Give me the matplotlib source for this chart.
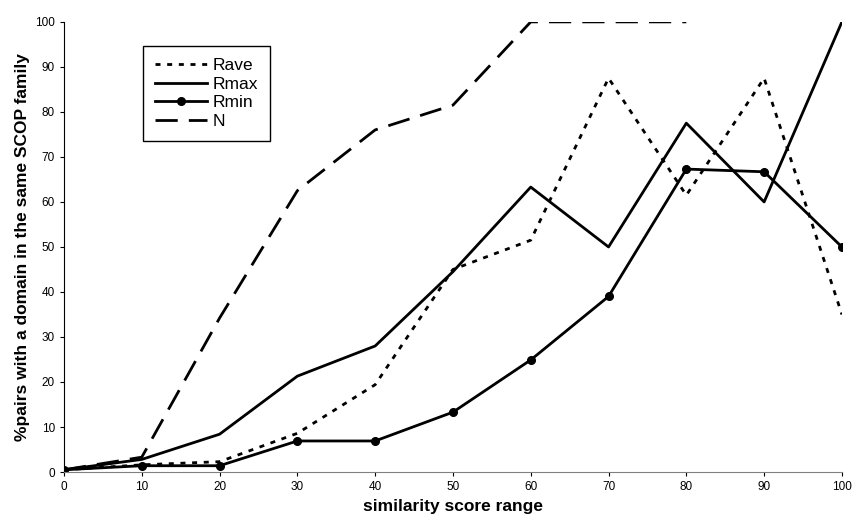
import numpy as np
import matplotlib.pyplot as plt

plt.rcParams['font.family'] = ['Liberation Sans', 'DejaVu Sans']

# similarity score range (x) and % of pairs in the same SCOP family
score = [0, 10, 20, 30, 40, 50, 60, 70, 80, 90, 100]
rave = [0.5, 1.6, 2.3, 8.6, 19.4, 45, 51.5, 87.5, 61.5, 87.5, 35]
rmax = [0.5, 2.8, 8.4, 21.3, 28, 44.5, 63.3, 50, 77.5, 60, 100]
rmin = [0.5, 1.4, 1.4, 6.9, 6.9, 13.3, 24.9, 39, 67.3, 66.7, 50]
nScore = [0, 10, 20, 30, 40, 50, 60, 70, 80]
nVals = [0.5, 3.3, 34.2, 62.5, 76, 81.5, 100, 100, 100]

fig = plt.figure(figsize=(8.53, 5.21), dpi=100)
ax = fig.add_axes([0.075, 0.094, 0.912, 0.864])

lw = 2.0
ax.plot(score, rave, color="k", lw=lw, dashes=(1.8, 2.4), label="Rave")
ax.plot(score, rmax, color="k", lw=lw, label="Rmax")
ax.plot(score, rmin, color="k", lw=lw, marker="o", markersize=5.5, label="Rmin")
ax.plot(nScore, nVals, color="k", lw=lw, dashes=(8, 4), label="N")

ax.set_xlim(0, 100)
ax.set_ylim(0, 100)
ax.set_xticks(np.arange(0, 101, 10))
ax.set_yticks(np.arange(0, 101, 10))
ax.tick_params(labelsize=8.5, direction="out", length=3)

ax.spines["top"].set_visible(False)
ax.spines["right"].set_visible(False)
ax.spines["bottom"].set_color("#808080")
ax.spines["left"].set_color("k")

ax.set_xlabel("similarity score range", fontsize=12.5, fontweight="bold")
ax.set_ylabel("%pairs with a domain in the same SCOP family", fontsize=12.5, fontweight="bold")

leg = ax.legend(loc="upper left", bbox_to_anchor=(0.1015, 0.947), borderaxespad=0,
                fontsize=12.5, handlelength=3.0, handletextpad=0.3, labelspacing=0.2,
                fancybox=False, edgecolor="k", framealpha=1, borderpad=0.7)
leg.get_frame().set_linewidth(1.0)

plt.savefig("out.png", dpi=100)
